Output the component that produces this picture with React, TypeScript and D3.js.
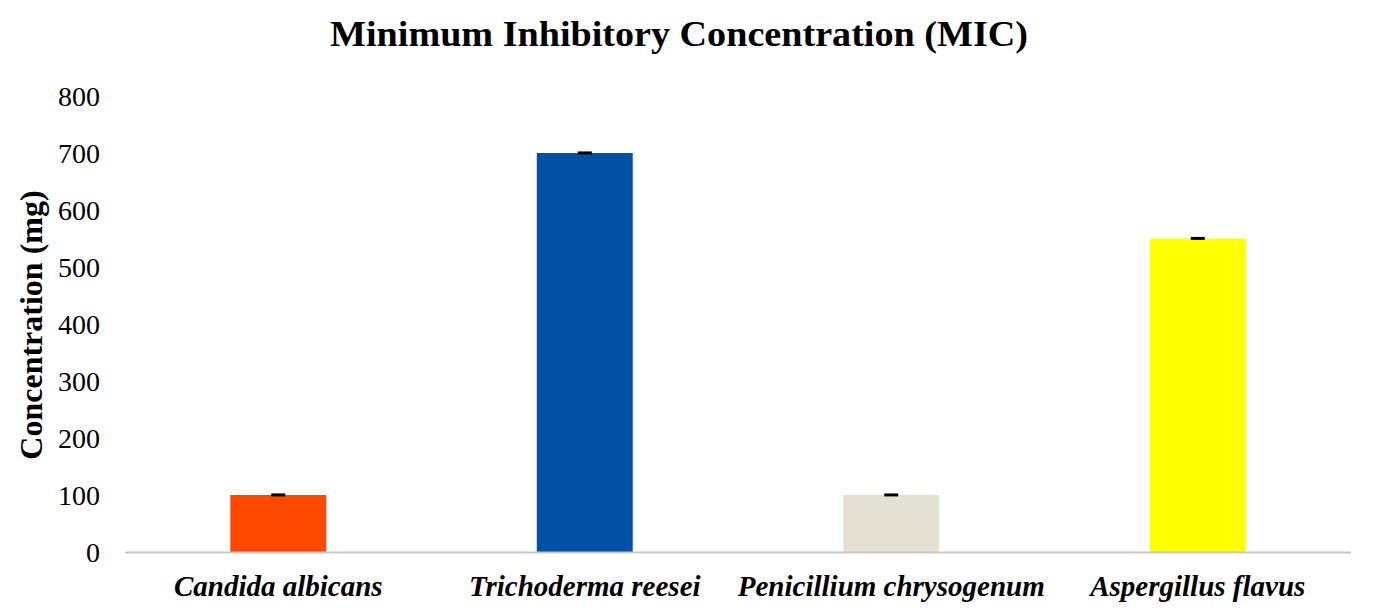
import React from "react";
import * as d3 from "d3";

const categories = ["Candida albicans", "Trichoderma reesei", "Penicillium chrysogenum", "Aspergillus flavus"];
const values = [100, 700, 100, 550];
const errors = [1, 1, 1, 1];
const colors = ["#FF4800", "#0050A4", "#E5E1D2", "#FFFF00"];
const yTicks = [0, 100, 200, 300, 400, 500, 600, 700, 800];

const W = 1374;
const H = 614;
const margin = { left: 125, right: 23, top: 96, bottom: 62 };
const FONT = "'Liberation Serif', 'Times New Roman', serif";

export default function App() {
  const x = d3
    .scaleBand<string>()
    .domain(categories)
    .range([margin.left, W - margin.right])
    .paddingInner(0.687)
    .paddingOuter(0.3435);
  const y = d3.scaleLinear().domain([0, 800]).range([H - margin.bottom, margin.top]);
  const base = y(0);
  return (
    <svg
      width={W}
      height={H}
      style={{ position: "absolute", left: 0, top: 0, background: "#fff" }}
      fontFamily={FONT}
    >
      <text
        x={330}
        y={46}
        fontSize={35}
        fontWeight="bold"
        textLength={698}
        lengthAdjust="spacingAndGlyphs"
      >
        Minimum Inhibitory Concentration (MIC)
      </text>
      <text
        transform={`translate(42, ${325}) rotate(-90)`}
        textAnchor="middle"
        fontSize={32}
        fontWeight="bold"
      >
        Concentration (mg)
      </text>
      {yTicks.map((t) => (
        <text key={t} x={100} y={y(t)} dy="0.35em" textAnchor="end" fontSize={28}>
          {t}
        </text>
      ))}
      {categories.map((c, i) => {
        const bx = x(c)!;
        const bw = x.bandwidth();
        const cx = bx + bw / 2;
        return (
          <g key={c}>
            <rect x={bx} y={y(values[i])} width={bw} height={base - y(values[i])} fill={colors[i]} />
            <line x1={cx} x2={cx} y1={y(values[i] - errors[i])} y2={y(values[i] + errors[i])} stroke="#000" strokeWidth={1} />
            <line x1={cx - 7} x2={cx + 7} y1={y(values[i] + errors[i]) + 0.5} y2={y(values[i] + errors[i]) + 0.5} stroke="#000" strokeWidth={3} />
            <text x={cx} y={base + 44} textAnchor="middle" fontSize={29} fontWeight="bold" fontStyle="italic">
              {c}
            </text>
          </g>
        );
      })}
      <line x1={margin.left} x2={W - margin.right} y1={base + 0.5} y2={base + 0.5} stroke="#C8C8C8" strokeWidth={2} />
    </svg>
  );
}
